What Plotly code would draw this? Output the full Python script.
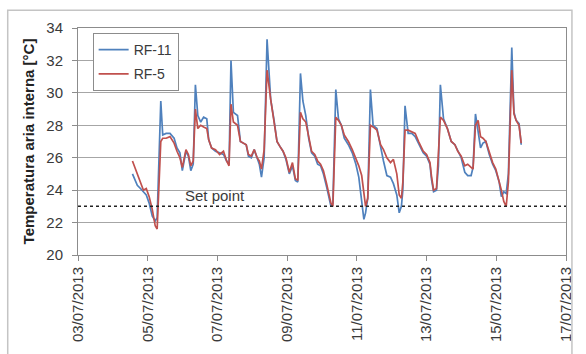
import plotly.graph_objects as go

# ---- data ----
times = [
    "2013-07-04 13:30", "2013-07-04 16:50", "2013-07-04 19:00", "2013-07-04 21:00", "2013-07-04 23:00",
    "2013-07-05 01:00", "2013-07-05 03:10", "2013-07-05 05:10", "2013-07-05 06:30", "2013-07-05 09:00",
    "2013-07-05 10:20", "2013-07-05 12:40", "2013-07-05 15:20", "2013-07-05 18:10", "2013-07-05 20:10",
    "2013-07-05 22:10", "2013-07-05 23:50", "2013-07-06 02:20", "2013-07-06 04:00", "2013-07-06 05:40",
    "2013-07-06 07:20", "2013-07-06 08:50", "2013-07-06 10:30", "2013-07-06 12:30", "2013-07-06 14:30",
    "2013-07-06 16:40", "2013-07-06 18:00", "2013-07-06 20:00", "2013-07-06 22:40", "2013-07-07 01:30",
    "2013-07-07 04:10", "2013-07-07 06:20", "2013-07-07 08:00", "2013-07-07 09:20", "2013-07-07 11:00",
    "2013-07-07 13:50", "2013-07-07 15:50", "2013-07-07 17:50", "2013-07-07 19:50", "2013-07-07 21:20",
    "2013-07-07 23:20", "2013-07-08 01:20", "2013-07-08 03:20", "2013-07-08 04:50", "2013-07-08 06:20",
    "2013-07-08 08:10", "2013-07-08 10:10", "2013-07-08 12:40", "2013-07-08 15:00", "2013-07-08 17:00",
    "2013-07-08 19:00", "2013-07-08 21:10", "2013-07-08 23:10", "2013-07-09 01:30", "2013-07-09 03:40",
    "2013-07-09 05:40", "2013-07-09 07:20", "2013-07-09 09:10", "2013-07-09 10:50", "2013-07-09 12:50",
    "2013-07-09 14:50", "2013-07-09 16:50", "2013-07-09 19:00", "2013-07-09 21:00", "2013-07-09 23:00",
    "2013-07-10 01:00", "2013-07-10 03:10", "2013-07-10 04:50", "2013-07-10 06:10", "2013-07-10 07:30",
    "2013-07-10 09:30", "2013-07-10 11:20", "2013-07-10 13:20", "2013-07-10 15:20", "2013-07-10 18:10",
    "2013-07-10 20:50", "2013-07-10 23:20", "2013-07-11 01:20", "2013-07-11 03:20", "2013-07-11 04:50",
    "2013-07-11 06:00", "2013-07-11 07:30", "2013-07-11 09:20", "2013-07-11 11:10", "2013-07-11 13:50",
    "2013-07-11 16:20", "2013-07-11 18:20", "2013-07-11 20:40", "2013-07-11 23:10", "2013-07-12 01:10",
    "2013-07-12 03:30", "2013-07-12 05:10", "2013-07-12 06:40", "2013-07-12 07:40", "2013-07-12 09:10",
    "2013-07-12 11:20", "2013-07-12 13:50", "2013-07-12 16:10", "2013-07-12 18:30", "2013-07-12 21:40",
    "2013-07-13 00:00", "2013-07-13 02:20", "2013-07-13 03:20", "2013-07-13 04:50", "2013-07-13 06:50",
    "2013-07-13 08:10", "2013-07-13 09:30", "2013-07-13 11:40", "2013-07-13 14:20", "2013-07-13 17:00",
    "2013-07-13 19:30", "2013-07-13 21:30", "2013-07-13 23:50", "2013-07-14 02:20", "2013-07-14 04:20",
    "2013-07-14 06:40", "2013-07-14 08:00", "2013-07-14 09:40", "2013-07-14 11:30", "2013-07-14 13:10",
    "2013-07-14 14:50", "2013-07-14 16:50", "2013-07-14 19:10", "2013-07-14 21:30", "2013-07-14 23:40",
    "2013-07-15 02:00", "2013-07-15 03:30", "2013-07-15 05:10", "2013-07-15 06:50", "2013-07-15 08:20",
    "2013-07-15 10:40", "2013-07-15 12:10", "2013-07-15 13:40", "2013-07-15 15:40", "2013-07-15 17:10",
]

rf11 = [
    25.0, 24.3, 24.1, 23.9, 23.7, 23.2, 22.4, 22.1, 22.3, 29.5,
    27.4, 27.5, 27.5, 27.2, 26.6, 26.3, 25.2, 26.4, 26.1, 25.2,
    25.6, 30.5, 28.6, 28.2, 28.5, 28.4, 27.1, 26.6, 26.4, 26.3,
    26.2, 25.8, 25.6, 32.0, 28.8, 28.6, 27.0, 26.9, 26.8, 26.1,
    26.0, 26.5, 25.9, 25.6, 24.8, 26.0, 33.3, 29.6, 28.3, 27.0,
    26.7, 26.4, 25.9, 25.0, 25.5, 24.6, 24.5, 31.2, 29.5, 28.6,
    27.2, 26.3, 26.1, 25.6, 25.5, 25.0, 24.2, 23.4, 23.0, 23.2,
    30.2, 28.4, 28.0, 27.2, 26.8, 26.3, 25.6, 24.8, 23.3, 22.2,
    22.6, 23.5, 30.2, 28.0, 27.8, 26.6, 25.8, 24.9, 24.8, 24.4,
    23.7, 22.6, 23.0, 24.0, 29.2, 27.5, 27.5, 27.3, 26.9, 26.3,
    26.1, 25.6, 24.7, 23.9, 24.0, 25.5, 30.5, 28.4, 27.8, 27.0,
    26.8, 26.4, 26.0, 25.1, 24.9, 24.9, 25.4, 28.7, 27.6, 26.6,
    26.9, 27.0, 26.2, 25.6, 25.2, 24.5, 23.6, 23.9, 23.8, 25.0,
    32.8, 28.8, 28.3, 28.1, 26.8,
]

rf5 = [
    25.8, 25.0, 24.6, 24.0, 24.1, 23.6, 22.8, 21.8, 21.6, 27.0,
    27.2, 27.2, 27.3, 26.9, 26.4, 26.0, 25.4, 26.5, 26.2, 25.5,
    25.8, 29.0, 27.8, 28.0, 27.9, 27.8, 27.1, 26.6, 26.5, 26.2,
    26.4, 25.8, 25.5, 29.3, 28.2, 28.0, 27.0, 26.9, 26.8, 26.2,
    26.1, 26.5, 26.0, 25.8, 25.3, 26.5, 31.4, 29.6, 28.2, 27.0,
    26.7, 26.4, 26.0, 25.1, 25.7, 24.7, 24.6, 28.8, 28.4, 28.2,
    27.3, 26.4, 26.2, 25.8, 25.6, 25.2, 24.4, 23.6, 23.2, 23.0,
    28.5, 28.3, 28.0, 27.4, 27.0, 26.5, 26.0, 25.5, 24.9, 23.6,
    23.0, 23.5, 28.0, 27.9, 27.7, 26.8, 26.5, 26.0, 25.7, 25.9,
    25.0, 23.7, 23.5, 24.5, 27.7, 27.7, 27.6, 27.5, 27.0, 26.4,
    26.2, 25.7, 24.9, 24.0, 24.1, 26.0, 28.5, 28.3, 27.8, 27.0,
    26.8, 26.4, 26.1, 25.5, 25.6, 25.4, 25.3, 28.0, 28.3, 27.3,
    27.2, 27.0, 26.3, 25.7, 25.3, 24.6, 24.0, 23.3, 23.0, 24.5,
    31.4, 28.7, 28.3, 28.0, 26.9,
]

set_point = 23
x_range = ["2013-07-03", "2013-07-17"]
y_range = [20, 34]
set_point_label = "Set point"
set_point_label_at = "2013-07-06 22:00"
y_title = "Temperatura aria interna [°C]"

FONT = "Liberation Sans, Arial, sans-serif"
TXT = "#3a3a3a"

fig = go.Figure()
fig.add_trace(go.Scatter(x=times, y=rf11, mode="lines", name="RF-11",
                         line=dict(color="#4F81BD", width=1.7), legendgroup="a"))
fig.add_trace(go.Scatter(x=times, y=rf5, mode="lines", name="RF-5",
                         line=dict(color="#C0504D", width=1.7), legendgroup="b"))

# set point dashed line
fig.add_shape(type="line", xref="paper", yref="y", x0=0, x1=1, y0=set_point, y1=set_point,
              line=dict(color="#222222", width=1.5, dash="3px,3px"))
fig.add_annotation(x=set_point_label_at, y=set_point, yref="y", xref="x", text=set_point_label,
                   showarrow=False, yanchor="bottom", yshift=0,
                   font=dict(family=FONT, size=15, color=TXT))

# outer chart frame
fig.add_shape(type="rect", xref="paper", yref="paper",
              x0=(7 - 78) / 493, x1=(577 - 78) / 493, y0=-0.6, y1=(257 - 10) / 229,
              line=dict(color="#c4c4c4", width=1.5), layer="above")

fig.update_layout(
    width=586, height=354,
    margin=dict(l=78, r=15, t=28, b=97),
    paper_bgcolor="white", plot_bgcolor="white",
    font=dict(family=FONT, size=15, color=TXT),
    showlegend=True,
    legend=dict(x=0.03, y=0.978, xanchor="left", yanchor="top",
                bordercolor="#8c8c8c", borderwidth=1, bgcolor="white",
                font=dict(family=FONT, size=14, color=TXT),
                traceorder="grouped", tracegroupgap=3),
    xaxis=dict(type="date", range=x_range, dtick=2 * 86400000, tick0="2013-07-03",
               tickformat="%d/%m/%Y", tickangle=-90, ticks="outside", ticklen=5,
               tickcolor="#8c8c8c", showgrid=False, showline=True, linecolor="#8c8c8c",
               linewidth=1, mirror=True, zeroline=False,
               tickfont=dict(family=FONT, size=15, color=TXT)),
    yaxis=dict(range=y_range, dtick=2, ticks="outside", ticklen=5, tickcolor="#8c8c8c",
               showgrid=True, gridcolor="#a6a6a6", gridwidth=1,
               showline=True, linecolor="#8c8c8c", linewidth=1, mirror=True, zeroline=False,
               ticklabelstandoff=6,
               tickfont=dict(family=FONT, size=15, color=TXT),
               title=dict(text="<b>" + y_title + "</b>", standoff=8,
                          font=dict(family=FONT, size=15, color="#222222"))),
)

fig.write_html("out.html", config={"displayModeBar": False},
               post_script="document.body.style.margin='0';document.body.style.padding='0';")
